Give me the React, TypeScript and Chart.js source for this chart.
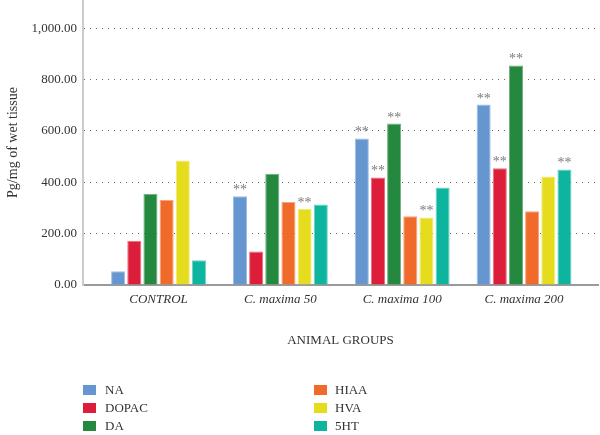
import React, { useEffect, useRef } from "react";
import { Chart, registerables } from "chart.js";

Chart.register(...registerables);

const groups = ["CONTROL", "C. maxima 50", "C. maxima 100", "C. maxima 200"];
const seriesNames = ["NA", "DOPAC", "DA", "HIAA", "HVA", "5HT"];
const naValues = [54, 346, 571, 703];
const dopacValues = [172, 130, 419, 455];
const daValues = [355, 433, 629, 855];
const hiaaValues = [332, 323, 268, 287];
const hvaValues = [485, 297, 263, 423];
const htValues = [96, 314, 380, 450];
const naSig = [false, true, true, true];
const dopacSig = [false, false, true, true];
const daSig = [false, false, true, true];
const hiaaSig = [false, false, false, false];
const hvaSig = [false, true, true, false];
const htSig = [false, false, false, true];
const yTicks = [0, 200, 400, 600, 800, 1000];

const colors = ["#6596d0", "#dc1e3a", "#24883f", "#f06a2a", "#e6dc1e", "#0db59e"];
const edgeColors = ["#9dbde6", "#ea6f80", "#6fb07f", "#f6a27a", "#f1ea7a", "#6ad3c5"];

const FONT = "'Liberation Serif', 'DejaVu Serif', serif";

const fmt = (v: number) => {
  const s = v.toFixed(2);
  const [i, d] = s.split(".");
  return i.replace(/\B(?=(\d{3})+(?!\d))/g, ",") + "." + d;
};

export default function App() {
  const ref = useRef<HTMLCanvasElement | null>(null);
  useEffect(() => {
    if (!ref.current) return;
    const allValues = [naValues, dopacValues, daValues, hiaaValues, hvaValues, htValues];
    const allSig = [naSig, dopacSig, daSig, hiaaSig, hvaSig, htSig];

    const starPlugin = {
      id: "stars",
      afterDatasetsDraw(chart: any) {
        const ctx = chart.ctx;
        ctx.save();
        ctx.font = `14px ${FONT}`;
        ctx.fillStyle = "#7a7a7a";
        ctx.textAlign = "center";
        ctx.textBaseline = "alphabetic";
        chart.data.datasets.forEach((ds: any, i: number) => {
          const meta = chart.getDatasetMeta(i);
          meta.data.forEach((bar: any, j: number) => {
            if (allSig[i][j]) ctx.fillText("**", bar.x, bar.y - 2);
          });
        });
        ctx.restore();
      },
    };

    const legendPlugin = {
      id: "customLegend",
      afterDraw(chart: any) {
        const ctx = chart.ctx;
        ctx.save();
        ctx.font = `13px ${FONT}`;
        ctx.textBaseline = "middle";
        ctx.textAlign = "left";
        chart.data.datasets.forEach((ds: any, i: number) => {
          const col = Math.floor(i / 3);
          const row = i % 3;
          const bx = col === 0 ? 83 : 314;
          const tx = col === 0 ? 105 : 335;
          const cy = 390 + row * 18;
          ctx.fillStyle = ds.backgroundColor;
          ctx.fillRect(bx, cy - 5, 13, 10);
          ctx.fillStyle = "#333";
          ctx.fillText(ds.label, tx, cy + 1);
        });
        ctx.restore();
      },
    };

    const chart = new Chart(ref.current, {
      type: "bar",
      data: {
        datasets: seriesNames.map((name, i) => ({
          label: name,
          data: allValues[i].map((v, j) => ({ x: j, y: v })),
          backgroundColor: colors[i],
          borderColor: edgeColors[i],
          borderWidth: 1,
          categoryPercentage: 0.796,
          barPercentage: 0.87,
        })),
      },
      options: {
        animation: false,
        responsive: false,
        layout: { padding: { left: 0, right: 2, top: 0, bottom: 0 } },
        plugins: { legend: { display: false }, tooltip: { enabled: false } },
        scales: {
          x: {
            type: "linear",
            min: -0.62,
            max: 3.607,
            offset: false,
            grid: { display: false, drawTicks: false, offset: false },
            border: { display: true, color: "#9a9a9a", width: 2 },
            afterBuildTicks: (s: any) => {
              s.ticks = groups.map((_, i) => ({ value: i }));
            },
            afterFit: (s: any) => {
              s.height = 150;
              s.paddingLeft = 0;
              s.paddingRight = 0;
              s.paddingTop = 0;
              s.paddingBottom = 0;
            },
            ticks: {
              padding: 7,
              color: "#333",
              font: { family: FONT, size: 13, style: "italic" },
              callback: (v: any) => groups[v as number] ?? "",
              autoSkip: false,
              maxRotation: 0,
            },
            title: {
              display: true,
              text: "ANIMAL GROUPS",
              color: "#333",
              font: { family: FONT, size: 13 },
              padding: { top: 0, bottom: 87 },
            },
          },
          y: {
            min: 0,
            max: 1110,
            grid: { color: "#666", lineWidth: 1, drawTicks: false },
            border: { display: true, color: "#cccccc", width: 2, dash: [1, 5] },
            afterBuildTicks: (s: any) => {
              s.ticks = yTicks.map((v) => ({ value: v }));
            },
            afterFit: (s: any) => {
              s.width = 83;
              s.paddingTop = 0;
              s.paddingBottom = 0;
              s.paddingLeft = 0;
              s.paddingRight = 0;
            },
            ticks: {
              padding: 6,
              color: "#333",
              font: { family: FONT, size: 13 },
              callback: (v: any) => fmt(Number(v)),
            },
            title: {
              display: true,
              text: "Pg/mg of wet tissue",
              color: "#333",
              font: { family: FONT, size: 14 },
              padding: { top: 5, bottom: 0 },
            },
          },
        },
      },
      plugins: [starPlugin, legendPlugin],
    } as any);
    return () => chart.destroy();
  }, []);
  return (
    <div style={{ position: "fixed", left: 0, top: 0, width: 600, height: 435, background: "#fff" }}>
      <canvas ref={ref} width={600} height={435} />
    </div>
  );
}
